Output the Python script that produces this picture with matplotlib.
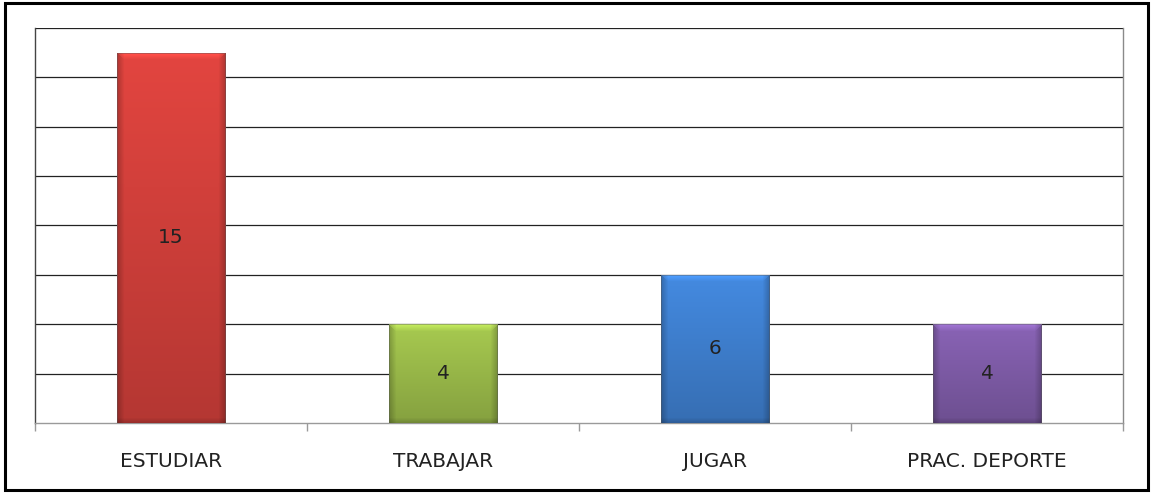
import numpy as np
import matplotlib
matplotlib.use("Agg")
import matplotlib.pyplot as plt
from matplotlib.colors import to_rgb
from matplotlib.patches import Rectangle

categories = ["ESTUDIAR", "TRABAJAR", "JUGAR", "PRAC. DEPORTE"]
values = [15, 4, 6, 4]
bar_colors = ["#D2403B", "#9BBB4A", "#3F80D0", "#7F5CA8"]

plt.rcParams['font.family'] = ['DejaVu Sans']

fig = plt.figure(figsize=(11.53, 4.95), dpi=100)
ax = fig.add_axes([35 / 1153, 72 / 495, 1088 / 1153, 395 / 495])

x = np.arange(len(categories))
bars = ax.bar(x, values, width=0.4, color=bar_colors, zorder=3, linewidth=0)


def bar_gradient(color, ny):
    # bevel look: lighter top band, darker sides/bottom, soft vertical fade
    base = np.array(to_rgb(color))
    nx = 108
    rows = np.arange(ny)[:, None]
    cols = np.arange(nx)[None, :]
    shade = 1.08 - 0.22 * rows / max(ny - 1, 1)
    shade = shade * np.ones((1, nx))
    side = np.minimum(cols, nx - 1 - cols)
    shade = shade * (1 - 0.22 * np.clip(1 - side / 7.0, 0, 1))
    top = np.clip(1 - rows / 7.0, 0, 1) * (side >= rows)
    shade = shade * (1 + 0.18 * top)
    bottom = np.clip(1 - (ny - 1 - rows) / 5.0, 0, 1)
    shade = shade * (1 - 0.15 * bottom)
    img = np.clip(base[None, None, :] * shade[:, :, None], 0, 1)
    return img


for b, c in zip(bars, bar_colors):
    x0, w, h = b.get_x(), b.get_width(), b.get_height()
    ny = int(round(h * 395 / 16))
    im = ax.imshow(bar_gradient(c, ny), extent=(x0, x0 + w, 0, h),
                   aspect='auto', zorder=3, interpolation='bilinear')
    im.set_clip_path(b)
    ax.add_patch(Rectangle((x0, 0), w, h, fill=False, edgecolor='#5a5a5a',
                           linewidth=0.6, alpha=0.5, zorder=4))

for xi, v in zip(x, values):
    ax.text(xi, v / 2, str(v), ha='center', va='center', fontsize=14.5,
            color='#222222', zorder=5)

ax.set_xlim(-0.5, len(categories) - 0.5)
ax.set_ylim(0, 16)
ax.set_yticks(np.arange(2, 17, 2))
ax.yaxis.grid(True, color='#222222', linewidth=0.9)
ax.set_axisbelow(True)
ax.tick_params(axis='y', left=False, labelleft=False)

ax.set_xticks(x)
ax.set_xticklabels(categories, fontsize=14.5, color='#222222')
ax.tick_params(axis='x', which='major', length=0, pad=21)
ax.set_xticks(np.arange(-0.5, len(categories), 1), minor=True)
ax.tick_params(axis='x', which='minor', length=6, width=1, color='#9a9a9a',
               direction='out')

ax.spines['bottom'].set_color('#9a9a9a')
ax.spines['left'].set_color('#444444')
ax.spines['right'].set_color('#8a8a8a')
ax.spines['top'].set_visible(False)
for s in ax.spines.values():
    s.set_linewidth(1)

# outer chart border
fig.patches.append(Rectangle((5 / 1153, 5 / 495), 1143 / 1153, 487 / 495,
                             transform=fig.transFigure, fill=False,
                             edgecolor='black', linewidth=2.2))

fig.savefig("out.png", dpi=100)
